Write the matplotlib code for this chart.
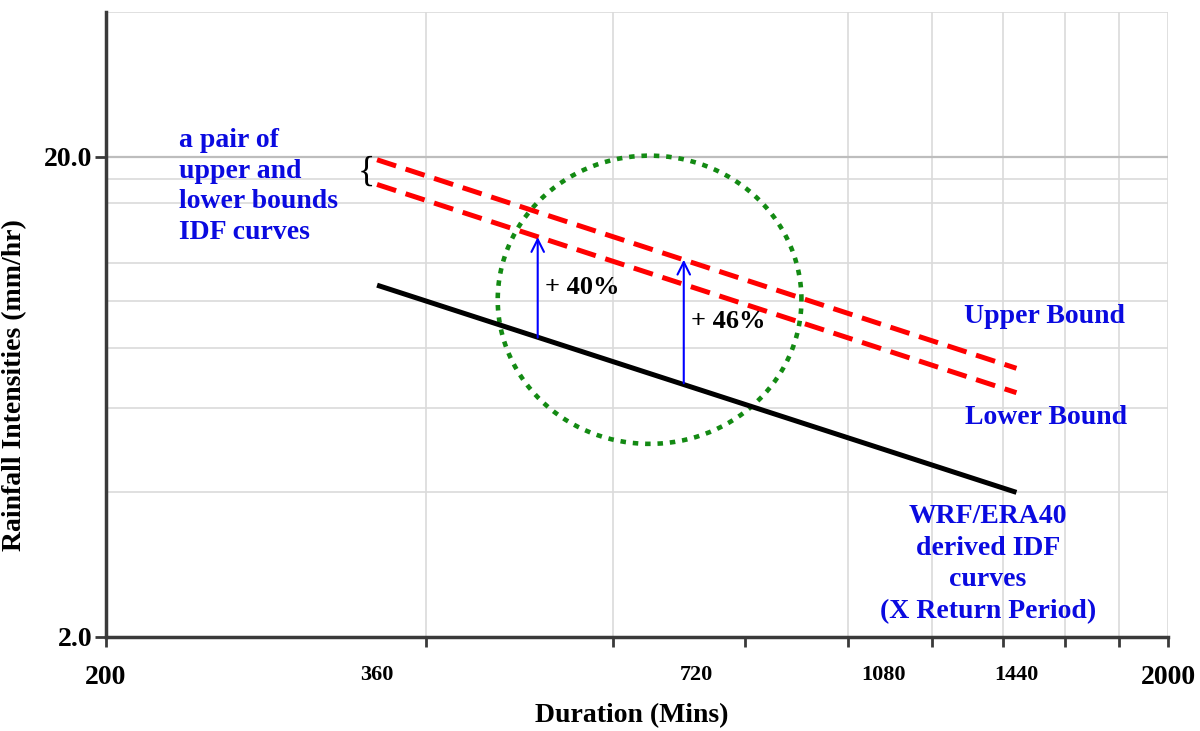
import numpy as np
import matplotlib.pyplot as plt
from matplotlib.ticker import FixedLocator, NullLocator, NullFormatter

# IDF lines: duration (mins) -> rainfall intensity (mm/hr)
durations = [360, 1440]
wrf_idf = [10.8, 4.0]
upper_bound = [19.7, 7.25]
lower_bound = [17.5, 6.45]

# increase arrows from the WRF curve up to the bounds
arrow_x = [510, 700]
arrow_from = [8.4, 6.75]
arrow_to = [13.6, 12.2]
arrow_labels = ['+ 40%', '+ 46%']

# highlighted region (dotted circle), centre and radius in decades
circle_centre = (650, 10.07)
circle_radius = (0.143, 0.300)

x_ticks = [200, 360, 720, 1080, 1440, 2000]
x_tick_labels = ['200', '360', '720', '1080', '1440', '2000']
x_tick_marks = [200, 400, 600, 800, 1000, 1200, 1400, 1600, 1800, 2000]
x_grid = [400, 600, 1000, 1200, 1400, 1600, 1800, 2000]
y_ticks = [2.0, 20.0]
y_tick_labels = ['2.0', '20.0']
y_grid = [4, 6, 8, 10, 12, 16, 18, 40]

BLUE = '#0a0ae0'

plt.rcParams['font.family'] = ['Liberation Serif', 'DejaVu Serif']
plt.rcParams['font.weight'] = 'bold'
plt.rcParams['axes.labelweight'] = 'bold'

fig = plt.figure(figsize=(12, 7.31), dpi=100)
ax = fig.add_axes([0.0883, 0.1286, 0.885, 0.855])
ax.set_xscale('log')
ax.set_yscale('log')
ax.set_xlim(200, 2000)
ax.set_ylim(2, 40)

# grid lines
for gx in x_grid:
    ax.axvline(gx, color='#dadada', lw=1.2, zorder=0)
for gy in y_grid:
    ax.axhline(gy, color='#dadada', lw=1.2, zorder=0)
ax.axhline(20, color='#bdbdbd', lw=1.6, zorder=0)

# axes
for s in ['top', 'right']:
    ax.spines[s].set_visible(False)
for s in ['left', 'bottom']:
    ax.spines[s].set_color('#3a3a3a')
    ax.spines[s].set_linewidth(2.5)

ax.xaxis.remove_overlapping_locs = False
ax.xaxis.set_major_locator(FixedLocator(x_ticks))
ax.set_xticklabels(x_tick_labels)
ax.xaxis.set_minor_locator(FixedLocator(x_tick_marks))
ax.xaxis.set_minor_formatter(NullFormatter())
ax.tick_params(axis='x', which='major', length=0, pad=20)
ax.tick_params(axis='x', which='minor', length=7, width=2, color='#3a3a3a')
for lab in ax.get_xticklabels():
    lab.set_fontsize(20 if lab.get_text() in ('200', '2000') else 16)
    lab.set_fontweight('bold')

ax.yaxis.set_major_locator(FixedLocator(y_ticks))
ax.set_yticklabels(y_tick_labels)
ax.yaxis.set_minor_locator(NullLocator())
ax.yaxis.set_minor_formatter(NullFormatter())
ax.tick_params(axis='y', which='major', length=8, width=2, color='#3a3a3a',
               labelsize=20, pad=2)

ax.set_xlabel('Duration (Mins)', fontsize=20, fontweight='bold')
ax.xaxis.set_label_coords(0.495, -0.105)
fig.text(15 / 1200, 1 - 385 / 731, 'Rainfall Intensities (mm/hr)', rotation=90,
         ha='center', va='center', fontsize=20, fontweight='bold')

# curves
ax.plot(durations, wrf_idf, color='black', lw=3.6, solid_capstyle='butt', zorder=3)
ax.plot(durations, upper_bound, color='red', lw=3.6, dashes=(4, 2), zorder=3)
ax.plot(durations, lower_bound, color='red', lw=3.6, dashes=(4, 2), zorder=3)

# dotted circle
t = np.linspace(0, 2 * np.pi, 400)
ax.plot(circle_centre[0] * 10 ** (circle_radius[0] * np.cos(t)),
        circle_centre[1] * 10 ** (circle_radius[1] * np.sin(t)),
        color='#138a13', lw=3.3, dashes=(1.2, 1.5), dash_capstyle='butt', zorder=2)

# arrows and percentages
for x, y0, y1, lab in zip(arrow_x, arrow_from, arrow_to, arrow_labels):
    ax.annotate('', xy=(x, y1), xytext=(x, y0),
                arrowprops=dict(arrowstyle='->,head_length=0.5,head_width=0.25',
                                color='blue', lw=1.5, shrinkA=0, shrinkB=0,
                                mutation_scale=18), zorder=4)
    ax.text(x * 1.015, (y0 * y1) ** 0.5, lab, fontsize=19, color='black',
            ha='left', va='center', fontweight='bold')

# brace for pair of bounds
ax.text(durations[0] * 0.995, (upper_bound[0] * lower_bound[0]) ** 0.5, '{',
        ha='right', va='center', fontsize=26, fontweight='normal')

# annotations
fig.text(179 / 1200, 1 - 128 / 731, 'a pair of\nupper and\nlower bounds\nIDF curves',
         color=BLUE, fontsize=20, ha='left', va='top', linespacing=1.3,
         fontweight='bold')
fig.text(1045 / 1200, 1 - 316 / 731, 'Upper Bound', color=BLUE, fontsize=20,
         ha='center', va='center', fontweight='bold')
fig.text(1046 / 1200, 1 - 417 / 731, 'Lower Bound', color=BLUE, fontsize=20,
         ha='center', va='center', fontweight='bold')
fig.text(988 / 1200, 1 - 564 / 731, 'WRF/ERA40\nderived IDF\ncurves\n(X Return Period)',
         color=BLUE, fontsize=20, ha='center', va='center', multialignment='center',
         linespacing=1.35, fontweight='bold')

fig.savefig('out.png', dpi=100)
